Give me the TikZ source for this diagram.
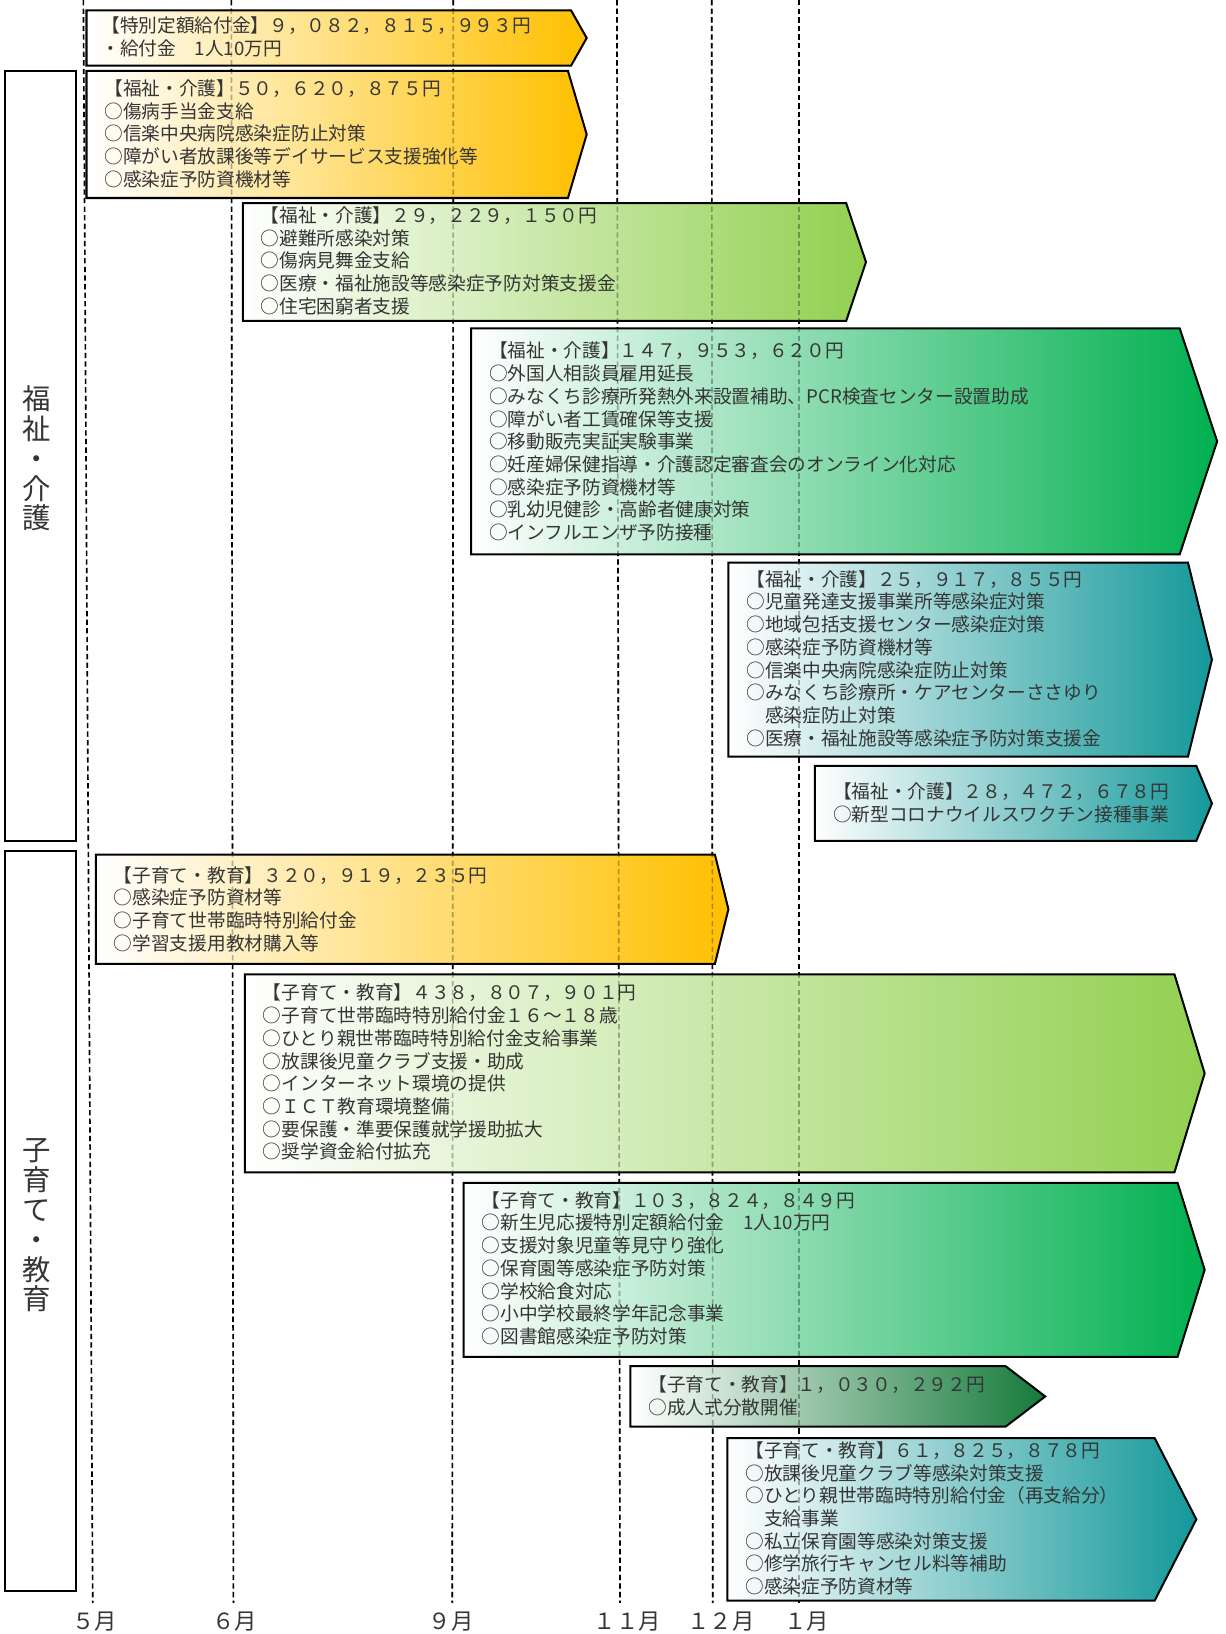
\documentclass[tikz,border=0pt]{standalone}
\usepackage{fontspec}
\setmainfont{Noto Sans CJK JP}
\usepackage{tikz}

\definecolor{kinorange}{HTML}{FFC000}
\definecolor{leafgreen}{HTML}{92D050}
\definecolor{fullgreen}{HTML}{00B050}
\definecolor{deepgreen}{HTML}{157A3A}
\definecolor{tealblue}{HTML}{14989A}
\definecolor{textgray}{HTML}{353535}

\begin{document}
\begin{tikzpicture}[x=0.02cm, y=-0.02cm,
    budget/.style={draw=black, line width=1.1pt, left color=white, middle color=#1!40, right color=#1},
    gridline/.style={dash pattern=on 2.9pt off 1.8pt, line width=0.9pt},
    sidebox/.style={draw=black, line width=1pt},
    items/.style={anchor=north west, inner sep=0pt, align=left, text=textgray, font=\fontsize{10.2}{12.4}\selectfont},
    side/.style={align=center, text=textgray, font=\fontsize{15.5}{16.3}\selectfont},
    month/.style={inner sep=1pt, text=textgray, font=\fontsize{12.2}{14}\selectfont}]
        \useasboundingbox (0,0) rectangle (1176,1568);

        % months
        \node[month] (m5) at (91,1556) {５月};
        \node[month] (m6) at (225,1556) {６月};
        \node[month] (m9) at (433,1556) {９月};
        \node[month] (m11) at (602,1556) {１１月};
        \node[month] (m12) at (692,1556) {１２月};
        \node[month] (m1) at (774,1556) {１月};
        \coordinate (t5) at (80,0);
        \coordinate (t6) at (222,0);
        \coordinate (t9) at (435,0);
        \coordinate (t11) at (592,0);
        \coordinate (t12) at (683,0);
        \coordinate (t1) at (767,0);
        \coordinate (b5) at (89,1538);
        \coordinate (b6) at (224,1538);
        \coordinate (b9) at (434,1538);
        \coordinate (b11) at (595,1538);
        \coordinate (b12) at (684,1538);
        \coordinate (b1) at (767,1538);
        \draw[gridline] (t5) -- (b5);
        \draw[gridline] (t6) -- (b6);
        \draw[gridline] (t9) -- (b9);
        \draw[gridline] (t11) -- (b11);
        \draw[gridline] (t12) -- (b12);
        \draw[gridline] (t1) -- (b1);

        % side boxes
        \draw[sidebox] (5,68) rectangle (73,807);
        \draw[sidebox] (5,817) rectangle (73,1527);
        \node[side] (welfare) at (35,440) {福\\祉\\・\\介\\護};
        \node[side] (childcare) at (35,1176) {子\\育\\て\\・\\教\\育};

        % budget arrows
        \draw[budget=kinorange] (83,10) -- (548,10) -- (563,36.5) -- (548,63) -- (83,63) -- cycle;
        \draw[budget=kinorange] (83,68) -- (545,68) -- (563,129) -- (545,190) -- (83,190) -- cycle;
        \draw[budget=leafgreen] (233,195) -- (812,195) -- (831,251.5) -- (812,308) -- (233,308) -- cycle;
        \draw[budget=fullgreen] (452,315) -- (1132,315) -- (1168,423.5) -- (1132,532) -- (452,532) -- cycle;
        \draw[budget=tealblue] (699,540) -- (1140,540) -- (1163,633) -- (1140,726) -- (699,726) -- cycle;
        \draw[budget=tealblue] (782,735) -- (1148,735) -- (1163,771) -- (1148,807) -- (782,807) -- cycle;
        \draw[budget=kinorange] (92,820) -- (686,820) -- (699,872.5) -- (686,925) -- (92,925) -- cycle;
        \draw[budget=leafgreen] (235,935) -- (1127,935) -- (1156,1030) -- (1127,1125) -- (235,1125) -- cycle;
        \draw[budget=fullgreen] (445,1135) -- (1130,1135) -- (1156,1218.5) -- (1130,1302) -- (445,1302) -- cycle;
        \draw[budget=deepgreen] (605,1311) -- (965,1311) -- (1003,1340) -- (965,1369) -- (605,1369) -- cycle;
        \draw[budget=tealblue] (698,1380) -- (1108,1380) -- (1148,1458) -- (1108,1536) -- (698,1536) -- cycle;

        % month lines seen through the arrows
        \draw[gridline, draw opacity=0.3] (t6) -- (b6);
        \draw[gridline, draw opacity=0.3] (t9) -- (b9);
        \draw[gridline, draw opacity=0.3] (t11) -- (b11);
        \draw[gridline, draw opacity=0.3] (t12) -- (b12);
        \draw[gridline, draw opacity=0.3] (t1) -- (b1);

        % texts
        \node[items] (kyufu) at (97,16) {【特別定額給付金】９，０８２，８１５，９９３円\\・給付金　1人10万円};
        \node[items] (fukushiA) at (100,76) {【福祉・介護】５０，６２０，８７５円\\○傷病手当金支給\\○信楽中央病院感染症防止対策\\○障がい者放課後等デイサービス支援強化等\\○感染症予防資機材等};
        \node[items] (fukushiB) at (250,198) {【福祉・介護】２９，２２９，１５０円\\○避難所感染対策\\○傷病見舞金支給\\○医療・福祉施設等感染症予防対策支援金\\○住宅困窮者支援};
        \node[items] (fukushiC) at (469,328) {【福祉・介護】１４７，９５３，６２０円\\○外国人相談員雇用延長\\○みなくち診療所発熱外来設置補助、PCR検査センター設置助成\\○障がい者工賃確保等支援\\○移動販売実証実験事業\\○妊産婦保健指導・介護認定審査会のオンライン化対応\\○感染症予防資機材等\\○乳幼児健診・高齢者健康対策\\○インフルエンザ予防接種};
        \node[items] (fukushiD) at (716,547) {【福祉・介護】２５，９１７，８５５円\\○児童発達支援事業所等感染症対策\\○地域包括支援センター感染症対策\\○感染症予防資機材等\\○信楽中央病院感染症防止対策\\○みなくち診療所・ケアセンターささゆり\\　感染症防止対策\\○医療・福祉施設等感染症予防対策支援金};
        \node[items] (fukushiE) at (799,751) {【福祉・介護】２８，４７２，６７８円\\○新型コロナウイルスワクチン接種事業};
        \node[items] (kosodateA) at (109,831) {【子育て・教育】３２０，９１９，２３５円\\○感染症予防資材等\\○子育て世帯臨時特別給付金\\○学習支援用教材購入等};
        \node[items] (kosodateB) at (252,944) {【子育て・教育】４３８，８０７，９０１円\\○子育て世帯臨時特別給付金１６～１８歳\\○ひとり親世帯臨時特別給付金支給事業\\○放課後児童クラブ支援・助成\\○インターネット環境の提供\\○ＩＣＴ教育環境整備\\○要保護・準要保護就学援助拡大\\○奨学資金給付拡充};
        \node[items] (kosodateC) at (462,1143) {【子育て・教育】１０３，８２４，８４９円\\○新生児応援特別定額給付金　1人10万円\\○支援対象児童等見守り強化\\○保育園等感染症予防対策\\○学校給食対応\\○小中学校最終学年記念事業\\○図書館感染症予防対策};
        \node[items] (kosodateD) at (622,1320) {【子育て・教育】１，０３０，２９２円\\○成人式分散開催};
        \node[items] (kosodateE) at (715,1383) {【子育て・教育】６１，８２５，８７８円\\○放課後児童クラブ等感染対策支援\\○ひとり親世帯臨時特別給付金（再支給分）\\　支給事業\\○私立保育園等感染対策支援\\○修学旅行キャンセル料等補助\\○感染症予防資材等};
      \end{tikzpicture}
\end{document}
